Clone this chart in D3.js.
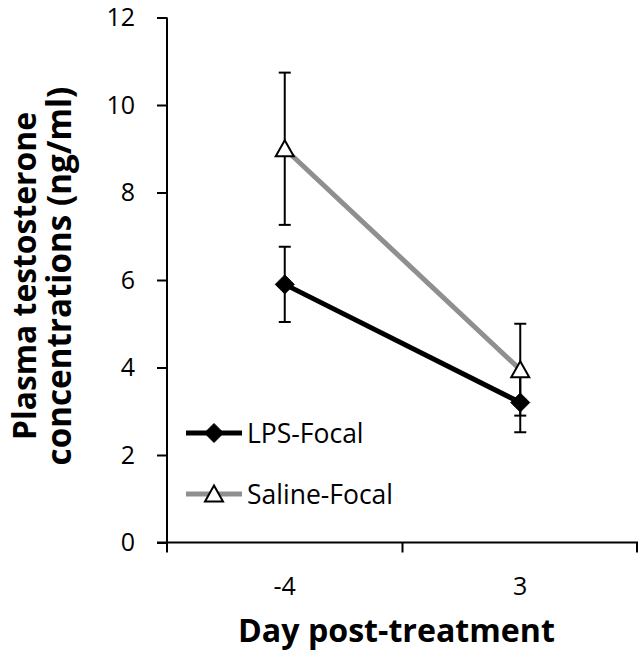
<!DOCTYPE html>
<html>
<head>
<meta charset="utf-8">
<script src="https://cdn.jsdelivr.net/npm/d3@7/dist/d3.min.js"></script>
<style>
  html, body { margin: 0; padding: 0; background: #fff; }
  svg { display: block; }
  text { font-family: "Open Sans", "Liberation Sans", sans-serif; fill: #000; }
</style>
</head>
<body>
<svg id="chart" width="638" height="657"></svg>
<script>
// Days sampled, relative to treatment
const days = ["-4", "3"];
// Mean plasma testosterone (ng/ml) per group
const lpsMean = [5.9, 3.2];
const salineMean = [9.0, 3.95];
// Standard error for each mean
const lpsErr = [0.86, 0.68];
const salineErr = [1.74, 1.05];
const yTicks = [0, 2, 4, 6, 8, 10, 12];

const svg = d3.select("#chart");
const plotLeft = 167, plotRight = 638, plotTop = 17.5, plotBottom = 542.5;

const x = d3.scaleBand().domain(days).range([plotLeft, plotRight]).padding(0);
const y = d3.scaleLinear().domain([0, 12]).range([plotBottom, plotTop]);
const cx = d => x(d) + x.bandwidth() / 2;

// Scale a text element's font so its rendered width equals `width`
function fitWidth(sel, width) {
  const base = parseFloat(sel.attr("font-size"));
  const len = sel.node().getComputedTextLength();
  if (len > 0) sel.attr("font-size", (base * width / len).toFixed(2));
  return sel;
}

// Y axis
const yAxis = svg.append("g")
  .attr("transform", `translate(${plotLeft},0)`)
  .call(d3.axisLeft(y).tickValues(yTicks).tickSize(10).tickPadding(22).tickFormat(d3.format("d")));
yAxis.select(".domain").attr("stroke", "#000").attr("stroke-width", 2).attr("d", `M0,${plotTop}V${plotBottom}`);
yAxis.selectAll(".tick line").attr("stroke", "#000").attr("stroke-width", 2);
yAxis.selectAll(".tick text").attr("font-size", 25).attr("font-family", "Open Sans").attr("fill", "#000");

// X axis: boundaries between day categories carry tick marks
const xAxis = svg.append("g").attr("transform", `translate(0,${plotBottom})`);
xAxis.append("line").attr("x1", plotLeft - 10).attr("x2", plotRight).attr("y1", 0).attr("y2", 0)
  .attr("stroke", "#000").attr("stroke-width", 2);
const bounds = [plotLeft, x(days[1]), plotRight - 1];
xAxis.selectAll("line.bt").data(bounds).enter().append("line")
  .attr("class", "bt")
  .attr("x1", d => d).attr("x2", d => d).attr("y1", 0).attr("y2", 10)
  .attr("stroke", "#000").attr("stroke-width", 2);
xAxis.selectAll("text.day").data(days).enter().append("text")
  .attr("class", "day")
  .attr("x", d => cx(d)).attr("y", 52.5)
  .attr("text-anchor", "middle").attr("font-size", 25)
  .text(d => d);

// Axis titles
const xTitle = svg.append("text")
  .attr("x", 396.5).attr("y", 642)
  .attr("text-anchor", "middle").attr("font-size", 30).attr("font-weight", "bold")
  .text("Day post-treatment");
fitWidth(xTitle, 317);

const yTitle = svg.append("g").attr("transform", "translate(0,276) rotate(-90)");
const yLine1 = yTitle.append("text").attr("x", 0).attr("y", 36)
  .attr("text-anchor", "middle").attr("font-size", 30).attr("font-weight", "bold")
  .text("Plasma testosterone");
const yLine2 = yTitle.append("text").attr("x", 0).attr("y", 71)
  .attr("text-anchor", "middle").attr("font-size", 30).attr("font-weight", "bold")
  .text("concentrations (ng/ml)");
fitWidth(yLine1, 328);
fitWidth(yLine2, 379);

const series = [
  { name: "LPS-Focal", mean: lpsMean, err: lpsErr, color: "#000", marker: "diamond" },
  { name: "Saline-Focal", mean: salineMean, err: salineErr, color: "#8f8f8f", marker: "triangle" }
];

const line = d3.line().x(d => cx(d.day)).y(d => y(d.v));

// Connecting lines (drawn first, under the error bars)
series.forEach(s => {
  const pts = days.map((d, i) => ({ day: d, v: s.mean[i] }));
  svg.append("path").datum(pts)
    .attr("d", line).attr("fill", "none")
    .attr("stroke", s.color).attr("stroke-width", 5);
});

// Error bars
series.forEach(s => {
  const g = svg.append("g");
  days.forEach((d, i) => {
    const hi = y(s.mean[i] + s.err[i]), lo = y(s.mean[i] - s.err[i]), px = cx(d);
    g.append("line").attr("x1", px).attr("x2", px).attr("y1", hi).attr("y2", lo)
      .attr("stroke", "#000").attr("stroke-width", 2);
    [hi, lo].forEach(yy => g.append("line")
      .attr("x1", px - 6).attr("x2", px + 6).attr("y1", yy).attr("y2", yy)
      .attr("stroke", "#000").attr("stroke-width", 2));
  });
});

// Markers
const diamond = "M0,-9.5L9.5,0L0,9.5L-9.5,0Z";
const triangle = "M0,-8.5L9,7.5L-9,7.5Z";
function drawMarker(g, type, px, py) {
  if (type === "diamond") {
    g.append("path").attr("d", diamond).attr("transform", `translate(${px},${py})`)
      .attr("fill", "#000").attr("stroke", "#000").attr("stroke-width", 1);
  } else {
    g.append("path").attr("d", triangle).attr("transform", `translate(${px},${py})`)
      .attr("fill", "#fff").attr("stroke", "#000").attr("stroke-width", 2);
  }
}
series.forEach(s => {
  const g = svg.append("g");
  days.forEach((d, i) => drawMarker(g, s.marker, cx(d), y(s.mean[i])));
});

// Legend
const legendY = [433, 494];
series.forEach((s, i) => {
  const g = svg.append("g").attr("transform", `translate(0,${legendY[i]})`);
  g.append("line").attr("x1", 186).attr("x2", 242).attr("y1", 0).attr("y2", 0)
    .attr("stroke", s.color).attr("stroke-width", 5);
  drawMarker(g, s.marker, 214, 0);
  g.append("text").attr("x", 247).attr("y", 9.5).attr("font-size", 26.5).text(s.name);
});
</script>
</body>
</html>
